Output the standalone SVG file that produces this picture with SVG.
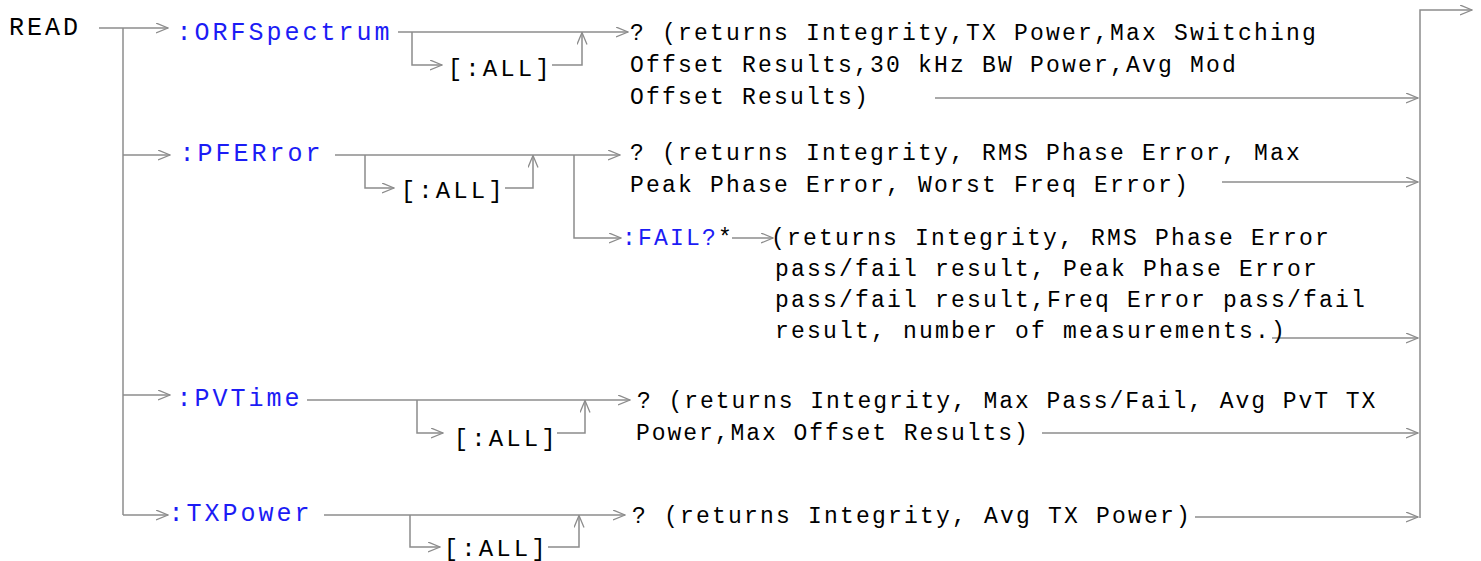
<svg xmlns="http://www.w3.org/2000/svg" width="1481" height="561" viewBox="0 0 1481 561">
<defs>
<marker id="ah" markerUnits="userSpaceOnUse" viewBox="0 0 13 11" markerWidth="13" markerHeight="11" refX="12.5" refY="5.5" orient="auto">
<path d="M0.5,0.5 L12.5,5.5 L0.5,10.5" fill="none" stroke="#8c8c8c" stroke-width="1.3"/>
</marker>
<style>
text{font-family:"Liberation Mono","Courier New",monospace;}
.lab{font-size:25px;letter-spacing:3px;fill:#1c1cf5;}
.kw{font-size:25px;letter-spacing:3px;fill:#000;}
.all{font-size:24px;letter-spacing:3.1px;fill:#000;}
.d{font-size:23px;letter-spacing:2.2px;fill:#000;}
.fail{fill:#1c1cf5;}
.c path{fill:none;stroke:#8c8c8c;stroke-width:1.5;}
.c path.a{marker-end:url(#ah);}
</style>
</defs>
<rect width="1481" height="561" fill="#fff"/>
<g class="c" id="connectors">
<path d="M123,28 V515"/>
<path class="a" d="M99,28 H168"/>
<path class="a" d="M123,155 H170"/>
<path class="a" d="M123,395 H170"/>
<path class="a" d="M123,515 H168"/>
<path class="a" d="M398,32 H628"/>
<path class="a" d="M412,32 V65 H442"/>
<path class="a" d="M552,65 H582 V32.5"/>
<path class="a" d="M935,98 H1418"/>
<path class="a" d="M335,155 H620"/>
<path class="a" d="M365,155 V188 H394"/>
<path class="a" d="M505,188 H533 V155.5"/>
<path class="a" d="M574,155 V238 H621"/>
<path class="a" d="M1222,182 H1418"/>
<path class="a" d="M732,238 H773"/>
<path class="a" d="M1272,338 H1418"/>
<path class="a" d="M307,400 H630"/>
<path class="a" d="M417,400 V433 H443"/>
<path class="a" d="M557,433 H585 V400.5"/>
<path class="a" d="M1042,433 H1418"/>
<path class="a" d="M324,515 H625"/>
<path class="a" d="M410,515 V547 H440"/>
<path class="a" d="M548,547 H579 V515.5"/>
<path class="a" d="M1195,517 H1418"/>
<path class="a" d="M1420,518 V10 H1472"/>
</g>
<g id="read"><text class="kw" x="9" y="35">READ</text></g>
<g id="orf">
<text class="lab" x="176.5" y="40">:ORFSpectrum</text>
<text class="all" x="447.7" y="76">[:ALL]</text>
<text class="d" x="630" y="40">? (returns Integrity,TX Power,Max Switching</text>
<text class="d" x="630" y="72">Offset Results,30 kHz BW Power,Avg Mod</text>
<text class="d" x="630" y="104">Offset Results)</text>
</g>
<g id="pfe">
<text class="lab" x="179.5" y="161">:PFERror</text>
<text class="all" x="400.7" y="198">[:ALL]</text>
<text class="d" x="630" y="160">? (returns Integrity, RMS Phase Error, Max</text>
<text class="d" x="630" y="192">Peak Phase Error, Worst Freq Error)</text>
</g>
<g id="fail">
<text class="d" x="622" y="245"><tspan class="fail">:FAIL?</tspan>*</text>
<text class="d" x="771" y="245">(returns Integrity, RMS Phase Error</text>
<text class="d" x="775" y="276">pass/fail result, Peak Phase Error</text>
<text class="d" x="775" y="307">pass/fail result,Freq Error pass/fail</text>
<text class="d" x="775" y="338">result, number of measurements.)</text>
</g>
<g id="pvt">
<text class="lab" x="176.5" y="406">:PVTime</text>
<text class="all" x="453.7" y="446">[:ALL]</text>
<text class="d" x="637" y="408" style="letter-spacing:1.95px">? (returns Integrity, Max Pass/Fail, Avg PvT TX</text>
<text class="d" x="636" y="440" style="letter-spacing:1.95px">Power,Max Offset Results)</text>
</g>
<g id="txp">
<text class="lab" x="168.5" y="521">:TXPower</text>
<text class="all" x="443.7" y="556">[:ALL]</text>
<text class="d" x="632" y="523">? (returns Integrity, Avg TX Power)</text>
</g>
</svg>
